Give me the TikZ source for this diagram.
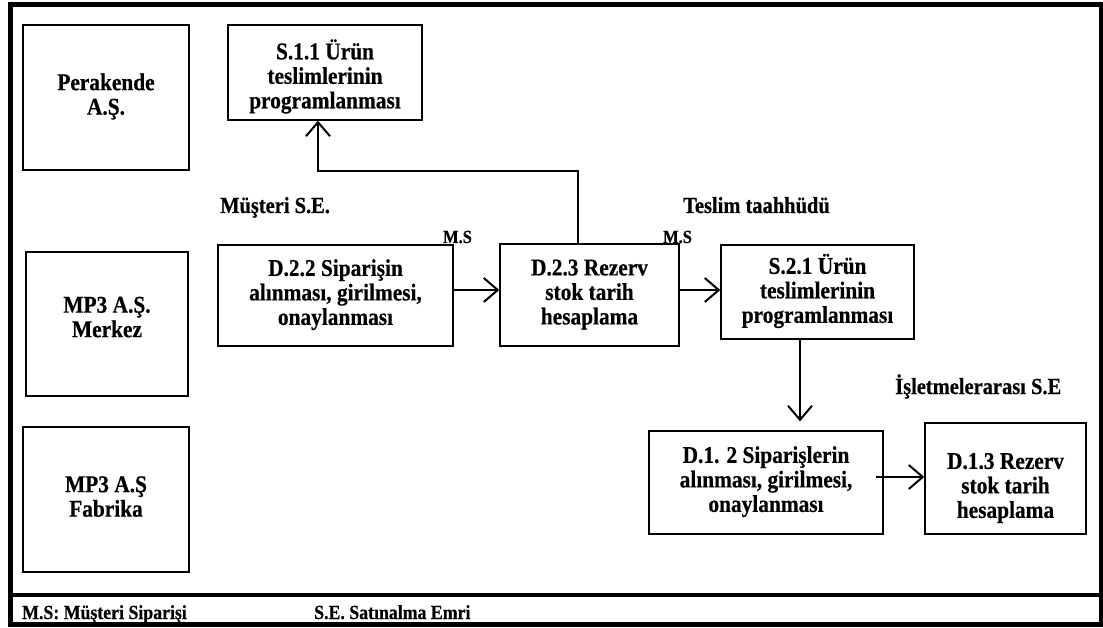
\documentclass[tikz,border=0pt]{standalone}
\usepackage{fontspec}
\setmainfont{Liberation Serif}
\newfontfamily\narrowserif[FakeStretch=0.89,BoldFeatures={FakeBold=0.5}]{Liberation Serif}
\usetikzlibrary{arrows.meta}
% centred multi-line box text, moved vertically by #1 without changing the box size
\newcommand\boxlines[2][0pt]{\raisebox{#1}[\height][\depth]{\begin{tabular}{@{}c@{}}#2\end{tabular}}}
\begin{document}
\begin{tikzpicture}[x=1pt,y=-1pt,
  box/.style={draw,line width=1.4pt,inner sep=0pt,
    font=\narrowserif\fontsize{24}{24.5}\selectfont\bfseries},
  lbl/.style={inner sep=0pt,anchor=base west,font=\narrowserif\fontsize{23}{24}\selectfont\bfseries},
  tag/.style={inner sep=0pt,anchor=base,font=\narrowserif\fontsize{18.5}{20}\selectfont\bfseries},
  foot/.style={inner sep=0pt,anchor=base west,font=\narrowserif\fontsize{20}{22}\selectfont\bfseries},
  flow/.style={line width=2pt,-{Straight Barb[length=14pt,width=24pt,line width=2pt]}}]
\useasboundingbox (0,0) rectangle (1103,628);
% outer frame and legend strip
\draw[line width=4.5pt] (10.5,4.5) rectangle (1101,624.5);
\draw[line width=4pt] (10.5,595) -- (1101,595);

% organisation column
\node[box,minimum width=166pt,minimum height=145pt] (per) at (106,97.5) {\boxlines{Perakende\\A.Ş.}};
\node[box,minimum width=162pt,minimum height=144pt] (mer) at (107,324) {\boxlines[4pt]{MP3 A.Ş.\\Merkez}};
\node[box,minimum width=166pt,minimum height=145pt] (fab) at (106,499.5) {\boxlines{MP3 A.Ş\\Fabrika}};

% process boxes
\node[box,minimum width=194pt,minimum height=95pt] (s11) at (325,72.5) {\boxlines[-5pt]{S.1.1 Ürün\\teslimlerinin\\programlanması}};
\node[box,minimum width=235pt,minimum height=101pt] (d22) at (335.5,295.5) {\boxlines{D.2.2 Siparişin\\alınması, girilmesi,\\onaylanması}};
\node[box,minimum width=179pt,minimum height=102pt] (d23) at (589.5,295) {\boxlines{D.2.3 Rezerv\\stok tarih\\hesaplama}};
\node[box,minimum width=193pt,minimum height=94pt] (s21) at (817.5,292) {\boxlines{S.2.1 Ürün\\teslimlerinin\\programlanması}};
\node[box,minimum width=234pt,minimum height=103pt] (d12) at (766,482.5) {\boxlines{D.1. 2 Siparişlerin\\alınması, girilmesi,\\onaylanması}};
\node[box,minimum width=161pt,minimum height=111pt] (d13) at (1005.5,478.5) {\boxlines[-10pt]{D.1.3 Rezerv\\stok tarih\\hesaplama}};

% flow labels
\node[lbl] (mse) at (220,213) {Müşteri S.E.};
\node[lbl] (tt) at (683,213) {Teslim taahhüdü};
\node[tag] (ms1) at (457.5,243) {M.S};
\node[tag] (ms2) at (677.5,243) {M.S};
\node[lbl] (ise) at (895,394) {İşletmelerarası S.E};

% legend
\node[foot] (lg1) at (22,619) {M.S: Müşteri Siparişi};
\node[foot] (lg2) at (314,619) {S.E. Satınalma Emri};

% routing coordinates
\coordinate (row) at (0,290);
\coordinate (row2) at (0,477);
\coordinate (up) at (578,171);
\coordinate (upx) at (318,0);
\coordinate (dnx) at (800,0);

% connectors
\draw[flow] (d22.east |- row) -- (d23.west |- row);
\draw[flow] (d23.east |- row) -- (s21.west |- row);
\draw[flow] (d23.north -| up) -- (up) -- (up -| upx) -- (s11.south -| upx);
\draw[flow,shorten >=9pt] (s21.south -| dnx) -- (d12.north -| dnx);
\draw[flow] ([xshift=-8pt]d12.east |- row2) -- (d13.west |- row2);
\end{tikzpicture}
\end{document}
